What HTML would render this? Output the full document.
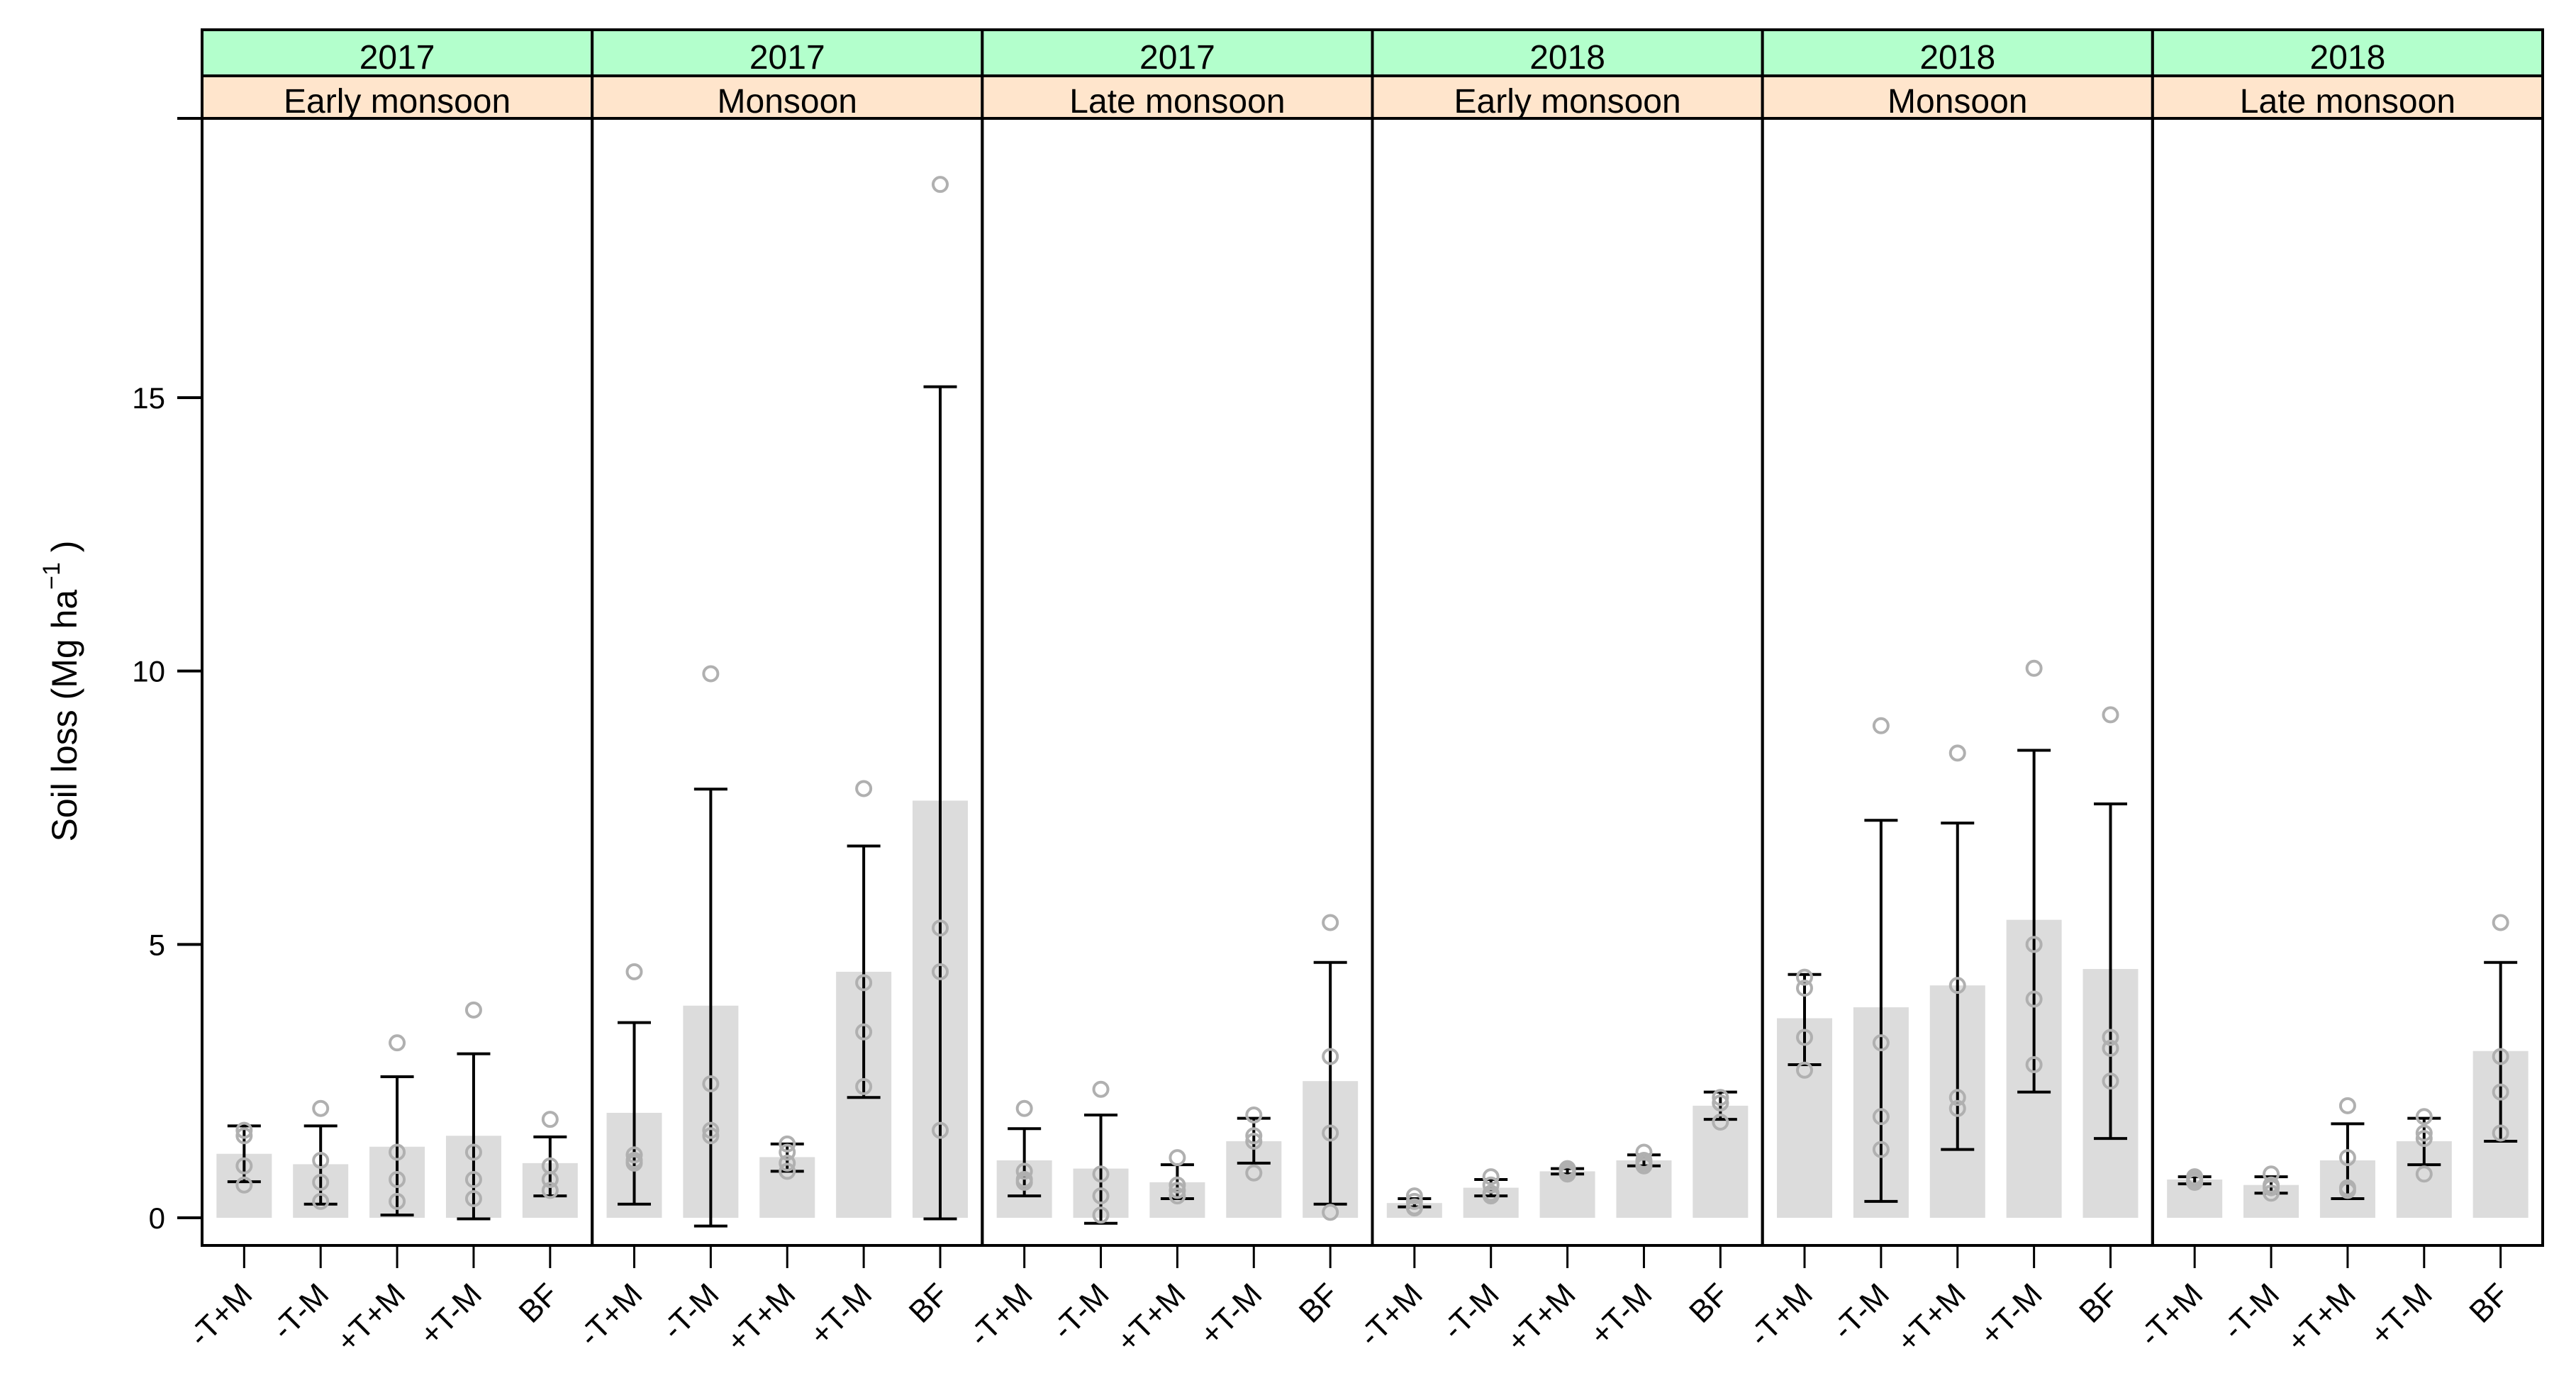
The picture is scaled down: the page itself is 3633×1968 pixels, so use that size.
<!DOCTYPE html>
<html><head><meta charset="utf-8"><style>
html,body{margin:0;padding:0;background:#fff;}
svg{display:block;font-family:"Liberation Sans",Arial,sans-serif;}
</style></head><body>
<svg id="chart" width="3633" height="1968" viewBox="0 0 3633 1968" xmlns="http://www.w3.org/2000/svg"></svg>
<script>
const years = ["2017","2017","2017","2018","2018","2018"];
const seasons = ["Early monsoon","Monsoon","Late monsoon","Early monsoon","Monsoon","Late monsoon"];
const treatments = ["-T+M","-T-M","+T+M","+T-M","BF"];
const yTicks = [0,5,10,15];
// bar means per panel
const means = [
 [1.17,0.98,1.30,1.50,1.00],
 [1.92,3.88,1.11,4.50,7.63],
 [1.05,0.90,0.65,1.40,2.50],
 [0.27,0.55,0.85,1.05,2.05],
 [3.65,3.85,4.25,5.45,4.55],
 [0.70,0.60,1.05,1.40,3.05]
];
const errLow = [
 [0.66,0.25,0.05,-0.02,0.40],
 [0.25,-0.15,0.85,2.20,-0.02],
 [0.40,-0.10,0.35,1.00,0.25],
 [0.20,0.40,0.80,0.95,1.80],
 [2.80,0.30,1.25,2.30,1.45],
 [0.62,0.45,0.35,0.97,1.40]
];
const errHigh = [
 [1.68,1.68,2.58,3.00,1.48],
 [3.57,7.84,1.35,6.80,15.20],
 [1.63,1.88,0.97,1.82,4.67],
 [0.35,0.70,0.90,1.15,2.30],
 [4.45,7.27,7.22,8.55,7.57],
 [0.75,0.75,1.72,1.82,4.67]
];
const points = [
 [[1.6,1.5,0.95,0.6],[2.0,1.05,0.65,0.3],[3.2,1.2,0.7,0.3],[3.8,1.2,0.7,0.35],[1.8,0.95,0.7,0.5]],
 [[4.5,1.15,1.05,1.0],[9.95,2.45,1.6,1.5],[1.35,1.2,1.0,0.85],[7.85,4.3,3.4,2.4],[18.9,5.3,4.5,1.6]],
 [[2.0,0.85,0.7,0.65],[2.35,0.8,0.4,0.05],[1.1,0.6,0.5,0.4],[1.88,1.5,1.4,0.82],[5.4,2.95,1.55,0.1]],
 [[0.4,0.3,0.2,0.18],[0.75,0.6,0.45,0.4],[0.9,0.85,0.85,0.8],[1.2,1.05,1.0,0.95],[2.2,2.1,2.1,1.75]],
 [[4.4,4.2,3.3,2.7],[9.0,3.2,1.85,1.25],[8.5,4.25,2.2,2.0],[10.05,5.0,4.0,2.8],[9.2,3.3,3.1,2.5]],
 [[0.75,0.7,0.65,0.65],[0.8,0.6,0.55,0.45],[2.05,1.1,0.55,0.5],[1.85,1.55,1.45,0.8],[5.4,2.95,2.3,1.55]]
];

const NS="http://www.w3.org/2000/svg";
const svg=document.getElementById('chart');
function mk(tag,attrs,parent){const e=document.createElementNS(NS,tag);for(const k in attrs)e.setAttribute(k,attrs[k]);(parent||svg).appendChild(e);return e;}
const L=285,R=3586,T=167,B=1757,S1=42,S2=107;
const PW=(R-L)/6;
const y0=1718, yPer=(1718-561)/15;
function ys(v){return y0-v*yPer;}
function xs(p,i){const u=PW/5.1;return L+p*PW+(i+1-0.45)*u;}
const bw=78, cap=47;

for(let p=0;p<6;p++){
  const px=L+p*PW;
  const g=mk('g',{});
  
  
  const s1=mk('rect',{x:px,y:S1,width:PW,height:S2-S1,fill:'#b3ffcc',stroke:'#000','stroke-width':4},g);
  
  
  const s2=mk('rect',{x:px,y:S2,width:PW,height:T-S2,fill:'#ffe5cc',stroke:'#000','stroke-width':4},g);
  
  
  const t1=mk('text',{x:px+PW/2,y:S2-10,'text-anchor':'middle','font-size':48},g);
  t1.textContent=years[p];
  
  
  const t2=mk('text',{x:px+PW/2,y:T-8,'text-anchor':'middle','font-size':48},g);
  t2.textContent=seasons[p];
  
  
  for(let i=0;i<5;i++){
    const cx=xs(p,i);
    const bar=mk('rect',{x:cx-bw/2,y:ys(means[p][i]),width:bw,height:ys(0)-ys(means[p][i]),fill:'#dcdcdc'},g);
    
    
    const eb=mk('path',{d:`M${cx} ${ys(errLow[p][i])}V${ys(errHigh[p][i])}M${cx-cap/2} ${ys(errLow[p][i])}h${cap}M${cx-cap/2} ${ys(errHigh[p][i])}h${cap}`,stroke:'#000','stroke-width':4,fill:'none'},g);
    
    
    for(const v of points[p][i]){
      const c=mk('circle',{cx:cx,cy:ys(v),r:10,fill:'none',stroke:'#b0b0b0','stroke-width':4},g);
      
      
    }
    const tk=mk('line',{x1:cx,x2:cx,y1:B,y2:B+32,stroke:'#000','stroke-width':3},g);
    
    
    const lb=mk('text',{x:cx+14,y:B+72,'text-anchor':'end','font-size':44,transform:`rotate(-45 ${cx+14} ${B+72})`},g);
    lb.textContent=treatments[i];
    
    
  }
  const fr=mk('rect',{x:px,y:T,width:PW,height:B-T,fill:'none',stroke:'#000','stroke-width':4},g);
  
  
}
for(const v of yTicks){
  const tk=mk('line',{x1:L-35,x2:L,y1:ys(v),y2:ys(v),stroke:'#000','stroke-width':4});
  
  
  const tl=mk('text',{x:L-52,y:ys(v)+15,'text-anchor':'end','font-size':42});
  tl.textContent=v;
  
  
}
const topTick=mk('line',{x1:L-35,x2:L,y1:T,y2:T,stroke:'#000','stroke-width':4});


const yt=mk('text',{x:0,y:0,'text-anchor':'middle','font-size':50,transform:'translate(108,975) rotate(-90)'});


yt.innerHTML='Soil loss (Mg ha<tspan dy="-24" font-size="34">−1</tspan><tspan dy="24"> )</tspan>';
</script>
</body></html>
